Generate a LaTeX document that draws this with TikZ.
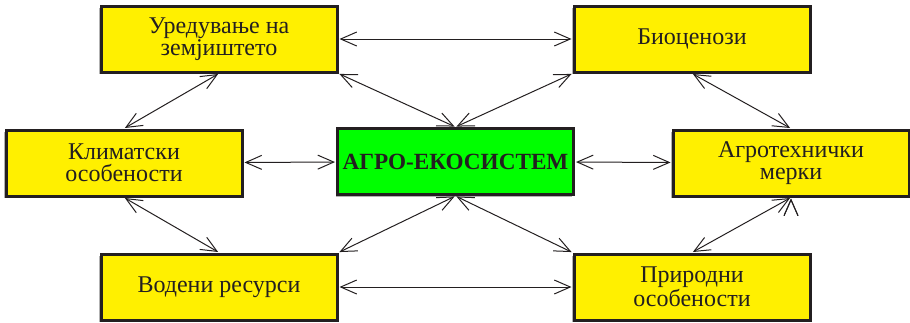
\documentclass[tikz,border=0pt]{standalone}
\usepackage{fontspec}
\setmainfont{Liberation Serif}
\usetikzlibrary{arrows.meta,shadows}
\definecolor{boxyellow}{RGB}{255,240,0}
\definecolor{boxgreen}{RGB}{0,255,0}
\definecolor{darkline}{RGB}{35,31,32}

\begin{document}
\begin{tikzpicture}[x=0.5pt,y=-0.5pt,>={Straight Barb[length=8pt,width=7pt]},
		shorten >=0.5pt,shorten <=0.5pt,line width=0.5pt]
		\tikzstyle{box}=[draw=darkline,line width=1.5pt,fill=boxyellow,text=darkline,
		minimum width=118pt,minimum height=33pt,align=center,inner sep=0pt,
		font=\fontsize{12}{11}\selectfont,
		drop shadow={shadow xshift=-1pt,shadow yshift=-1pt,fill=black!30,opacity=1}]
		\tikzstyle{core}=[box,fill=boxgreen,font=\fontsize{11.6}{10}\selectfont\bfseries]
		\useasboundingbox (0,0) rectangle (910,322);

		\node[box] (ured)    at (219,39)    {Уредување на\\земјиштето};
		\node[box] (bio)     at (692,39)    {Биоценози};
		\node[box] (klim)    at (124,163)   {Климатски\\особености};
		\node[core] (agro)   at (455.5,161.5) {АГРО-ЕКОСИСТЕМ};
		\node[box] (tehn)    at (791,163)   {Агротехнички\\мерки};
		\node[box] (voda)    at (219,287)   {Водени ресурси};
		\node[box] (prir)    at (692,287)   {Природни\\особености};

		\path[<->,draw=darkline]
		(ured) edge (bio)
		(ured.south) edge (klim.north)
		(ured.south east) edge (agro.north)
		(bio.south west) edge (agro.north)
		(bio.south) edge (tehn.north)
		(klim) edge (agro)
		(agro) edge (tehn)
		(klim.south) edge (voda.north)
		(agro.south) edge (voda.north east)
		(agro.south) edge (prir.north west)
		(tehn.south) edge (prir.north)
		(voda) edge (prir);
\end{tikzpicture}
\end{document}
